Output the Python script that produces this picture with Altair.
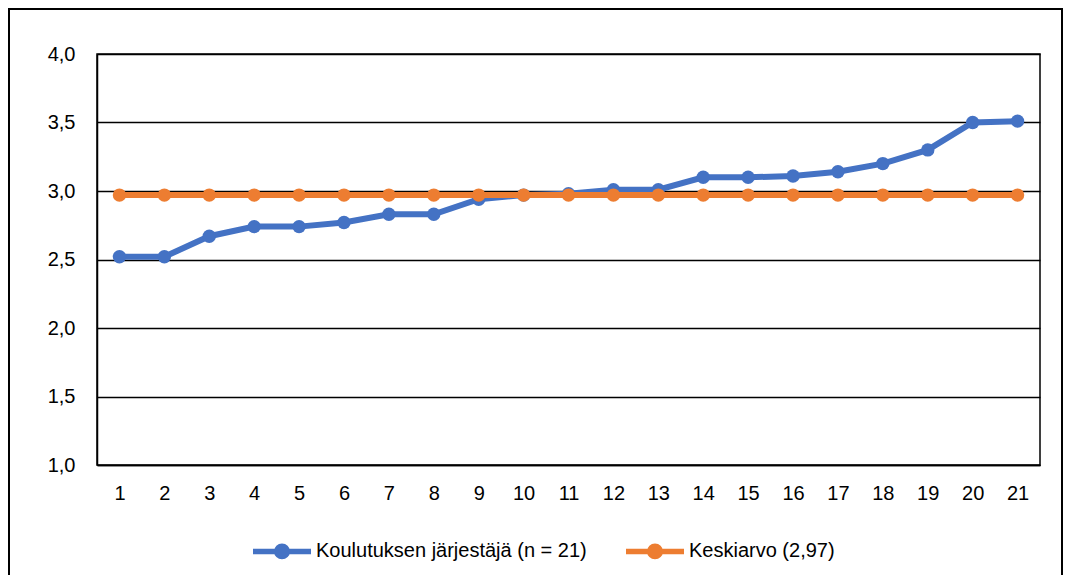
import altair as alt
import pandas as pd

categories = [str(i) for i in range(1, 22)]
provider_values = [2.52, 2.52, 2.67, 2.74, 2.74, 2.77, 2.83, 2.83, 2.94, 2.97, 2.98,
                   3.01, 3.01, 3.10, 3.10, 3.11, 3.14, 3.20, 3.30, 3.50, 3.51]
mean_values = [2.97] * 21
series_names = ["Koulutuksen järjestäjä (n = 21)", "Keskiarvo (2,97)"]
series_colors = ["#4472C4", "#ED7D31"]
y_ticks = [1.0, 1.5, 2.0, 2.5, 3.0, 3.5, 4.0]

df = pd.DataFrame({
    "cat": categories * 2,
    "value": provider_values + mean_values,
    "series": [series_names[0]] * 21 + [series_names[1]] * 21,
})

FONT = "Liberation Sans"
W, H = 943, 411

x_enc = alt.X("cat:O", sort=categories, scale=alt.Scale(type="point", padding=0.5),
              axis=alt.Axis(title=None, labelAngle=0, ticks=False, tickSize=0, labelPadding=18,
                            labelFontSize=20, labelFont=FONT, labelColor="#000000",
                            domainColor="#000000", domainWidth=1.5, grid=False))
y_enc = alt.Y("value:Q", scale=alt.Scale(domain=[1, 4], nice=False, zero=False),
              axis=alt.Axis(title=None, values=y_ticks, ticks=False, tickSize=0, labelPadding=22,
                            labelExpr="replace(format(datum.value, '.1f'), '.', ',')",
                            labelFontSize=20, labelFont=FONT, labelColor="#000000",
                            domainColor="#000000", domainWidth=1.5,
                            grid=True, gridColor="#000000", gridWidth=1.5, gridOpacity=1))

legend_path = "M-1,0L1,0M-0.18,0A0.18,0.18,0,1,0,0.18,0A0.18,0.18,0,1,0,-0.18,0Z"
color_enc = alt.Color("series:N", scale=alt.Scale(domain=series_names, range=series_colors),
                      legend=alt.Legend(title=None, orient="none", direction="horizontal",
                                        legendX=153, legendY=465, padding=0,
                                        labelFontSize=20, labelFont=FONT, labelColor="#000000",
                                        labelLimit=0,
                                        symbolType=legend_path, symbolSize=3364,
                                        symbolStrokeWidth=5.5, labelOffset=2, columnPadding=28,
                                        symbolOpacity=1))

def series_layer(name):
    return alt.Chart(df).transform_filter(alt.datum.series == name).mark_line(
        strokeWidth=6,
        point=alt.OverlayMarkDef(filled=True, size=180, opacity=1),
    ).encode(x=x_enc, y=y_enc, color=color_enc)

frame = alt.Chart(df).mark_rect(fill=None, stroke="#000000", strokeWidth=1.5, clip=False).encode(
    x=alt.value(-88.25), x2=alt.value(W + 22.25),
    y=alt.value(-45.25), y2=alt.value(H + 200),
)

chart = alt.layer(series_layer(series_names[0]), series_layer(series_names[1]), frame).properties(
    width=W, height=H,
    autosize=alt.AutoSizeParams(type="none"),
    padding={"left": 89, "top": 46, "right": 23, "bottom": 110},
    background="#FFFFFF",
).configure_view(stroke="#000000", strokeWidth=1.5)

chart.save("out.html", embed_options={"renderer": "svg", "actions": False})
